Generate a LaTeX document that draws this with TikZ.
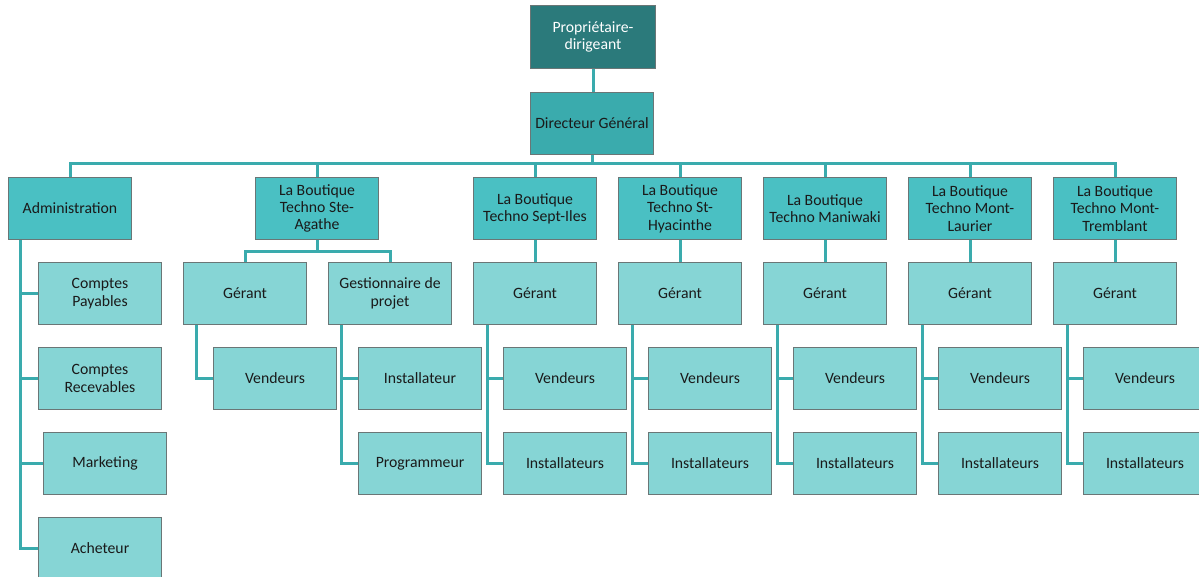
\documentclass[tikz,border=0pt]{standalone}
\usepackage{fontspec}
\setmainfont{Carlito}
\usetikzlibrary{calc}
\definecolor{ownerFill}{HTML}{2B7A7B}
\definecolor{directorFill}{HTML}{3AABAD}
\definecolor{storeFill}{HTML}{4AC0C3}
\definecolor{staffFill}{HTML}{86D5D5}
\definecolor{linkTeal}{HTML}{3AABAD}
\definecolor{boxBorder}{HTML}{6A7676}
\definecolor{boxText}{HTML}{1A1A1A}
\tikzset{
    BaseBox/.style={draw=boxBorder, line width=0.75pt, anchor=north west, align=center,
        minimum width=92.25pt, minimum height=46.5pt, inner sep=0pt, text=boxText,
        font=\fontsize{11.8}{13}\selectfont},
    OwnerBox/.style={BaseBox, fill=ownerFill, text=white, minimum width=93.75pt, minimum height=47.25pt},
    DirectorBox/.style={BaseBox, fill=directorFill},
    StoreBox/.style={BaseBox, fill=storeFill},
    StaffBox/.style={BaseBox, fill=staffFill},
    Link/.style={draw=linkTeal, line width=2.25pt}
}

\begin{document}
\begin{tikzpicture}[x=0.75pt, y=-0.75pt]
    % cadre de la page (1199 x 577 px)
    \clip (0,0) rectangle (1199,577);

    % --- direction ---
    \node[OwnerBox] (owner) at (530,5) {Propriétaire-\\dirigeant};
    \node[DirectorBox] (dir) at (530,92) {Directeur Général};
    \draw[Link] (owner.south) -- (owner.south |- dir.north);
    \coordinate (bus) at (dir.south |- 0,164);
    \draw[Link] (dir.south) -- (bus);

    % --- administration ---
    \node[StoreBox] (admin) at (8,177) {Administration};
    \draw[Link] (admin.north) |- (bus);
    \node[StaffBox] (admin-pay) at (38,262) {Comptes\\Payables};
    \node[StaffBox] (admin-rec) at (38,347) {Comptes\\Recevables};
    \node[StaffBox] (admin-mkt) at (43,432) {Marketing};
    \node[StaffBox] (admin-ach) at (38,517) {Acheteur};
    \coordinate (admin-spine) at ($(admin.south west)+(12,0)$);
    \foreach \c in {pay, rec, mkt, ach}
        \draw[Link] (admin-spine) |- (admin-\c.west);

    % --- La Boutique Techno Ste-Agathe ---
    \node[StoreBox] (agathe) at (255,177) {La Boutique\\Techno Ste-\\Agathe};
    \draw[Link] (agathe.north) |- (bus);
    \node[StaffBox] (agathe-ger) at (183,262) {Gérant};
    \node[StaffBox] (agathe-gp) at (328,262) {Gestionnaire de\\projet};
    \coordinate (agathe-split) at ($(agathe.south)+(0,12)$);
    \draw[Link] (agathe.south) -- (agathe-split);
    \draw[Link] (agathe-ger.north) |- (agathe-split);
    \draw[Link] (agathe-gp.north) |- (agathe-split);
    \node[StaffBox] (agathe-ven) at (213,347) {Vendeurs};
    \node[StaffBox] (agathe-ins) at (358,347) {Installateur};
    \node[StaffBox] (agathe-prg) at (358,432) {Programmeur};
    \draw[Link] ($(agathe-ger.south west)+(13,0)$) |- (agathe-ven.west);
    \draw[Link] ($(agathe-gp.south west)+(13,0)$) |- (agathe-ins.west);
    \draw[Link] ($(agathe-gp.south west)+(13,0)$) |- (agathe-prg.west);

    % --- autres boutiques ---
    \foreach \id/\xl/\name in {sept/473/{La Boutique\\Techno Sept-Iles},
                               hyac/618/{La Boutique\\Techno St-\\Hyacinthe},
                               mani/763/{La Boutique\\Techno Maniwaki},
                               laur/908/{La Boutique\\Techno Mont-\\Laurier},
                               trem/1053/{La Boutique\\Techno Mont-\\Tremblant}} {
        \node[StoreBox] (\id) at (\xl,177) {\name};
        \draw[Link] (\id.north) |- (bus);
        \node[StaffBox] (\id-ger) at (\xl,262) {Gérant};
        \draw[Link] (\id.south) -- (\id-ger.north);
        \node[StaffBox] (\id-ven) at (\xl+30,347) {Vendeurs};
        \node[StaffBox] (\id-ins) at (\xl+30,432) {Installateurs};
        \draw[Link] ($(\id-ger.south west)+(14,0)$) |- (\id-ven.west);
        \draw[Link] ($(\id-ger.south west)+(14,0)$) |- (\id-ins.west);
    }
\end{tikzpicture}
\end{document}
